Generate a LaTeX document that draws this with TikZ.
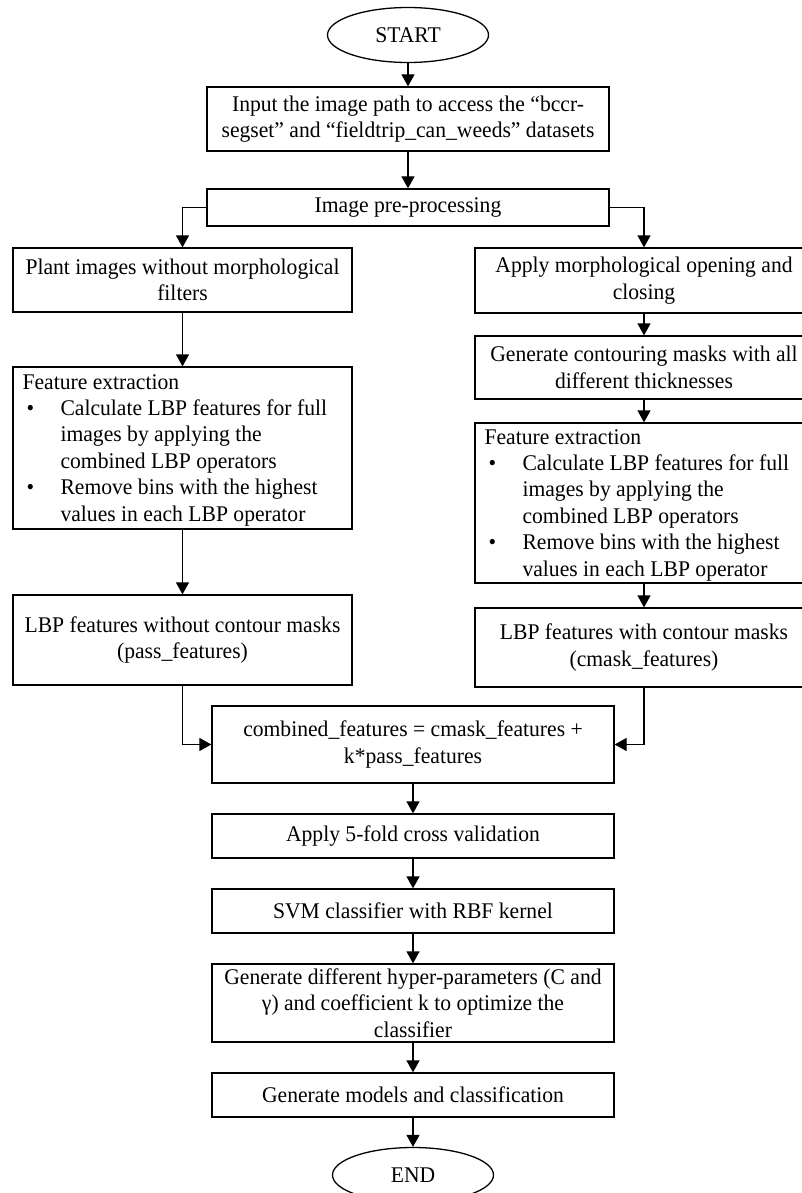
\documentclass[tikz,border=0pt]{standalone}
\usepackage{fontspec}
\setmainfont[FakeStretch=0.965]{Liberation Serif}
\usetikzlibrary{arrows.meta,shapes.geometric}
\tikzset{
  txt/.style={font=\fontsize{22.4}{26.4}\selectfont},
  box/.style={draw, line width=1.3pt, rectangle, inner sep=0pt, align=center, txt},
  term/.style={draw, line width=1.3pt, ellipse, inner sep=0pt, minimum width=161pt, minimum height=55pt, txt},
  ltext/.style={inner sep=0pt, align=left, anchor=west, txt},
  flow/.style={line width=1.3pt, -{Triangle[length=12pt,width=13pt]}},
}
\newcommand{\bul}{\makebox[38pt][l]{\hspace{4pt}\textbullet}}
\newcommand{\ind}{\hspace*{38pt}}
\begin{document}
\begin{tikzpicture}[x=1pt,y=-1pt]
\clip (0,0) rectangle (802,1193);
\fill[white] (0,0) rectangle (802,1193);

\node[term] (start) at (408,35) {START};
\node[box, minimum width=402pt, minimum height=64pt] (input) at (408,119)
  {Input the image path to access the “bccr-\\segset” and “fieldtrip\_can\_weeds” datasets};
\node[box, minimum width=402pt, minimum height=37pt] (pre) at (408,207.5) {Image pre-processing};

\node[box, minimum width=339pt, minimum height=64pt] (plant) at (182.5,280)
  {Plant images without morphological\\filters};
\node[box, minimum width=339pt, minimum height=162pt] (feL) at (182.5,448) {};
\node[ltext] (feLt) at ([xshift=10pt,yshift=-2pt]feL.west)
  {Feature extraction\\
   \bul Calculate LBP features for full\\
   \ind images by applying the\\
   \ind combined LBP operators\\
   \bul Remove bins with the highest\\
   \ind values in each LBP operator};
\node[box, minimum width=339pt, minimum height=90pt] (lbpL) at (182.5,640)
  {LBP features without contour masks\\(pass\_features)};

\node[box, minimum width=338pt, minimum height=65pt] (morph) at (644,280.5)
  {Apply morphological opening and\\closing};
\node[box, minimum width=338pt, minimum height=63pt] (contour) at (644,367.5)
  {Generate contouring masks with all\\different thicknesses};
\node[box, minimum width=338pt, minimum height=160pt] (feR) at (644,503) {};
\node[ltext] (feRt) at ([xshift=10pt,yshift=-2pt]feR.west)
  {Feature extraction\\
   \bul Calculate LBP features for full\\
   \ind images by applying the\\
   \ind combined LBP operators\\
   \bul Remove bins with the highest\\
   \ind values in each LBP operator};
\node[box, minimum width=338pt, minimum height=79pt] (lbpR) at (644,647.5)
  {LBP features with contour masks\\(cmask\_features)};

\node[box, minimum width=402pt, minimum height=77pt] (comb) at (413,744.5)
  {combined\_features = cmask\_features +\\k*pass\_features};
\node[box, minimum width=402pt, minimum height=44pt] (fold) at (413,836)
  {Apply 5-fold cross validation};
\node[box, minimum width=402pt, minimum height=44pt] (svm) at (413,911)
  {SVM classifier with RBF kernel};
\node[box, minimum width=402pt, minimum height=78pt] (hyper) at (413,1003)
  {Generate different hyper-parameters (C and\\γ) and coefficient k to optimize the\\classifier};
\node[box, minimum width=402pt, minimum height=44pt] (models) at (413,1095)
  {Generate models and classification};
\node[term] (end) at (413,1175) {END};

\draw[flow] (start) -- (input);
\draw[flow] (input) -- (pre);
\draw[flow] (pre.west) -| (plant.north);
\draw[flow] (pre.east) -| (morph.north);
\draw[flow] (plant) -- (feL);
\draw[flow] (feL) -- (lbpL);
\draw[flow] (morph) -- (contour);
\draw[flow] (contour) -- (feR);
\draw[flow] (feR) -- (lbpR);
\draw[flow] (lbpL.south) |- (comb.west);
\draw[flow] (lbpR.south) |- (comb.east);
\draw[flow] (comb) -- (fold);
\draw[flow] (fold) -- (svm);
\draw[flow] (svm) -- (hyper);
\draw[flow] (hyper) -- (models);
\draw[flow] (models) -- (end);
\end{tikzpicture}
\end{document}
